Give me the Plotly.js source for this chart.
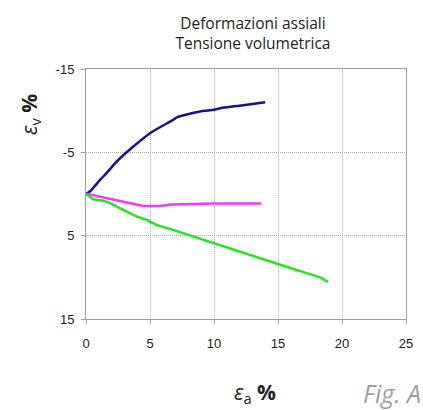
<!DOCTYPE html>
<html><head><meta charset="utf-8">
<script src="https://cdn.plot.ly/plotly-3.0.1.min.js"></script>
<style>body{margin:0;background:#fff}#c{width:423px;height:410px}</style>
</head><body><div id="c"></div>
<script>
const blueX = [0, 0.3, 1.1, 1.6, 2.4, 3.7, 5.0, 6.8, 7.1, 8.9, 10.0, 10.5, 12.0, 14.0];
const blueY = [0, -0.3, -1.7, -2.5, -3.9, -5.7, -7.3, -8.9, -9.2, -9.9, -10.1, -10.3, -10.6, -11.0];
const magX = [0, 0.3, 1.9, 3.2, 4.5, 5.8, 6.6, 9.95, 13.7];
const magY = [0, 0.05, 0.6, 1.05, 1.45, 1.45, 1.25, 1.15, 1.15];
const grnX = [0, 0.57, 1.35, 1.9, 2.65, 3.96, 4.74, 5.5, 6.8, 8.4, 9.95, 11.5, 13.6, 15.2, 16.2, 17.7, 18.3, 18.9];
const grnY = [0, 0.64, 0.8, 1.1, 1.7, 2.7, 3.1, 3.7, 4.3, 5.1, 5.9, 6.7, 7.7, 8.5, 9.0, 9.7, 10.0, 10.55];
const xTicks = [0, 5, 10, 15, 20, 25];
const yTicks = [-15, -5, 5, 15];
const yTickText = ['-15', '-5', '5', '15'];

const traces = [
  {x: blueX, y: blueY, mode: 'lines', line: {color: '#14148c', width: 2.5, shape: 'spline', smoothing: 0.6}},
  {x: magX, y: magY, mode: 'lines', line: {color: '#f03cf0', width: 2.5}},
  {x: grnX, y: grnY, mode: 'lines', line: {color: '#22e622', width: 2.5}}
];
const axisCommon = {
  showline: true, linecolor: '#a0a0a0', linewidth: 1, mirror: true,
  showgrid: true, gridcolor: '#b0b0b0', griddash: '1px,1px', gridwidth: 1,
  zeroline: false, ticks: 'outside', ticklen: 4, tickcolor: '#a0a0a0',
  tickfont: {family: 'Liberation Sans, Arial', size: 13, color: '#222'}
};
const layout = {
  width: 423, height: 410,
  margin: {l: 86, r: 17, t: 69, b: 91},
  showlegend: false,
  paper_bgcolor: '#fff', plot_bgcolor: '#fff',
  title: {text: 'Deformazioni assiali<br>Tensione volumetrica', x: 0.598, xanchor: 'center',
          yref: 'container', y: 0.93, yanchor: 'middle', font: {family: 'Open Sans', size: 15.5, color: '#222'}},
  xaxis: Object.assign({}, axisCommon, {range: [0, 25], tickvals: xTicks, ticklabelstandoff: 8, fixedrange: true}),
  yaxis: Object.assign({}, axisCommon, {range: [15, -15], tickvals: yTicks, ticktext: yTickText, ticklabelstandoff: 4, fixedrange: true}),
  annotations: [
    {xref: 'paper', yref: 'paper', x: 0.528, y: -0.296, xanchor: 'center', yanchor: 'middle',
     text: '<i>ε</i><sub>a</sub> <b>%</b>', showarrow: false,
     font: {family: 'Open Sans', size: 21, color: '#222'}},
    {xref: 'paper', yref: 'paper', x: 0.957, y: -0.296, xanchor: 'center', yanchor: 'middle',
     text: '<i>Fig. A</i>', showarrow: false,
     font: {family: 'Open Sans', size: 25, color: '#a0a0a0'}},
    {xref: 'paper', yref: 'paper', x: -0.175, y: 0.816, xanchor: 'center', yanchor: 'middle',
     text: '<i>ε</i><sub>v</sub> <b>%</b>', showarrow: false, textangle: -90,
     font: {family: 'Open Sans', size: 21, color: '#222'}}
  ]
};
Plotly.newPlot('c', traces, layout, {displayModeBar: false, staticPlot: true});
</script></body></html>
